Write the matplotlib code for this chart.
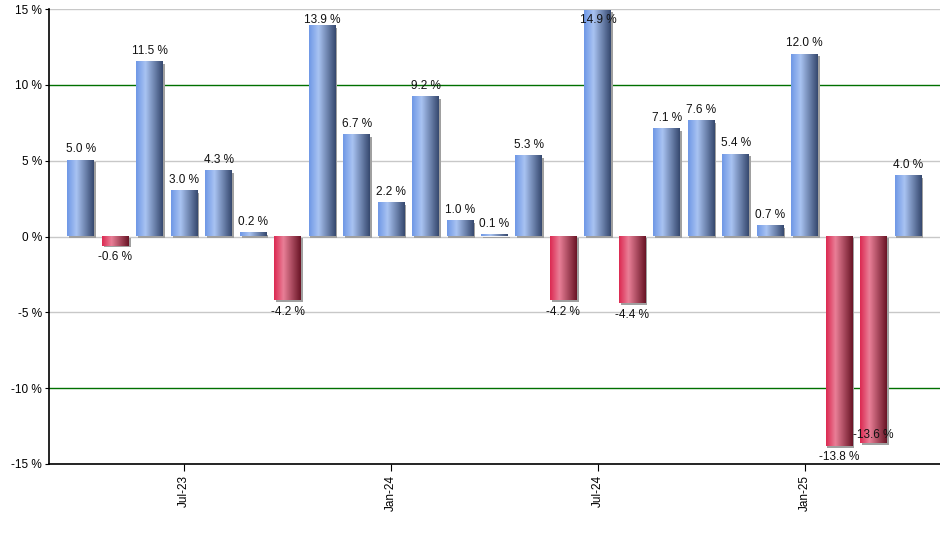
import numpy as np
import matplotlib
matplotlib.use("Agg")
import matplotlib.pyplot as plt
from matplotlib.colors import LinearSegmentedColormap
from matplotlib.patches import Rectangle

# monthly returns, Apr-23 .. Apr-25
months = ["Apr-23", "May-23", "Jun-23", "Jul-23", "Aug-23", "Sep-23", "Oct-23",
          "Nov-23", "Dec-23", "Jan-24", "Feb-24", "Mar-24", "Apr-24", "May-24",
          "Jun-24", "Jul-24", "Aug-24", "Sep-24", "Oct-24", "Nov-24", "Dec-24",
          "Jan-25", "Feb-25", "Mar-25", "Apr-25"]
returns = [5.0, -0.6, 11.5, 3.0, 4.3, 0.2, -4.2, 13.9, 6.7, 2.2, 9.2, 1.0, 0.1,
           5.3, -4.2, 14.9, -4.4, 7.1, 7.6, 5.4, 0.7, 12.0, -13.8, -13.6, 4.0]
tick_labels = ["Jul-23", "Jan-24", "Jul-24", "Jan-25"]
yticks = [-15, -10, -5, 0, 5, 10, 15]

plt.rcParams['font.family'] = ['Liberation Sans', 'DejaVu Sans']

blue_cm = LinearSegmentedColormap.from_list(
    "b", [(0, "#6f98e6"), (0.35, "#a9c3f2"), (1, "#36496f")])
red_cm = LinearSegmentedColormap.from_list(
    "r", [(0, "#dc2a52"), (0.35, "#e97f97"), (1, "#6a1526")])
grad = np.linspace(0, 1, 64).reshape(1, -1)

fig = plt.figure(figsize=(9.4, 5.5), dpi=100)
ax = fig.add_axes([0.052, 0.1564, 0.948, 0.8272])

ax.set_xlim(-0.93, len(returns) - 0.07)
ax.set_ylim(-15, 15)

# grid lines
for v in yticks:
    col = "#007000" if abs(v) == 10 else "#c8c8c8"
    ax.axhline(v, color=col, lw=1.0, zorder=1)

w = 0.78
for i, v in enumerate(returns):
    x0 = i - w / 2
    lo, hi = min(0, v), max(0, v)
    # shadow
    ax.add_patch(Rectangle((x0 + 0.05, lo - 0.12), w, hi - lo, color="#a0a0a0",
                           lw=0, zorder=2))
    cm = blue_cm if v >= 0 else red_cm
    ax.imshow(grad, cmap=cm, extent=[x0, x0 + w, lo, hi], aspect="auto",
              interpolation="bilinear", zorder=3)

    txt = f"{v:.1f} %"
    if v >= 0:
        y = v + 0.35
        va = "bottom"
        if y > 14.2:
            y = 14.3
            va = "center"
    else:
        y = v - 0.35
        va = "top"
        if i > 0 and returns[i - 1] < v - 0.1 and v < -10:
            y = v + 0.5
            va = "center"
    ax.text(i, y, txt, ha="center", va=va, fontsize=8.5, color="#111111",
            zorder=5)

ax.set_yticks(yticks)
ax.set_yticklabels([f"{v} %" for v in yticks], fontsize=8.5)
ax.set_xticks([months.index(m) for m in tick_labels])
ax.set_xticklabels(tick_labels, rotation=90, fontsize=8.5)
ax.tick_params(axis="y", length=3, pad=2)
ax.tick_params(axis="x", length=5, pad=3)

for s in ["top", "right"]:
    ax.spines[s].set_visible(False)
ax.spines["left"].set_linewidth(1.2)
ax.spines["bottom"].set_linewidth(1.2)

fig.savefig("out.png", dpi=100)
